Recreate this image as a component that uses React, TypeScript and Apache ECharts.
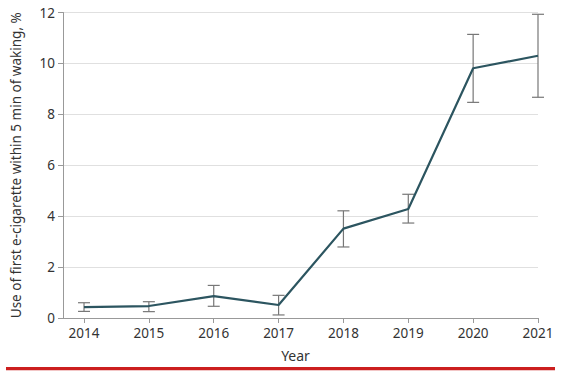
import React, { useEffect, useRef } from "react";
import * as echarts from "echarts";

const years = [2014, 2015, 2016, 2017, 2018, 2019, 2020, 2021];
const values = [0.43, 0.47, 0.86, 0.51, 3.51, 4.28, 9.81, 10.30];
const lower = [0.26, 0.25, 0.46, 0.12, 2.79, 3.73, 8.47, 8.67];
const upper = [0.60, 0.64, 1.28, 0.89, 4.21, 4.86, 11.14, 11.93];
const yTicks = [0, 2, 4, 6, 8, 10, 12];

const FONT = "Noto Sans";

export default function App() {
  const ref = useRef<HTMLDivElement>(null);
  useEffect(() => {
    if (!ref.current) return;
    const chart = echarts.init(ref.current, null, { renderer: "svg" });
    const lineData = years.map((y, i) => [y, values[i]]);
    const errData = years.map((y, i) => [y, lower[i], upper[i]]);
    chart.setOption({
      animation: false,
      grid: { left: 63, right: 28, top: 12.5, bottom: 56, containLabel: false },
      xAxis: {
        type: "value",
        min: 2013.676,
        max: 2021,
        name: "Year",
        nameLocation: "middle",
        nameGap: 30,
        nameTextStyle: { fontFamily: FONT, fontSize: 14, color: "#333", padding: [0, 10, 0, 0] },
        axisLine: { show: true, lineStyle: { color: "#999", width: 1 } },
        axisTick: { show: true, customValues: years, length: 5, lineStyle: { color: "#999" } },
        axisLabel: {
          customValues: years,
          margin: 8,
          fontFamily: FONT,
          fontSize: 13.5,
          color: "#333",
          formatter: (v: number) => String(Math.round(v)),
        },
        splitLine: { show: false },
      },
      yAxis: {
        type: "value",
        min: 0,
        max: 12,
        interval: 2,
        name: "Use of first e-cigarette within 5 min of waking, %",
        nameLocation: "middle",
        nameGap: 40,
        nameTextStyle: { fontFamily: FONT, fontSize: 13.5, color: "#333" },
        axisLine: { show: true, lineStyle: { color: "#999", width: 1 } },
        axisTick: { show: true, length: 5, lineStyle: { color: "#999" } },
        axisLabel: {
          margin: 8,
          fontFamily: FONT,
          fontSize: 13.5,
          color: "#333",
          formatter: (v: number) => (yTicks.includes(v) ? String(v) : ""),
        },
        splitLine: { show: true, lineStyle: { color: "#e0e0e0", width: 1 } },
      },
      series: [
        {
          type: "custom",
          data: errData,
          z: 2,
          renderItem: (params: any, api: any) => {
            const x = api.value(0);
            const lo = api.coord([x, api.value(1)]);
            const hi = api.coord([x, api.value(2)]);
            const hw = 6;
            const style = { stroke: "#777", lineWidth: 1.2 };
            return {
              type: "group",
              children: [
                { type: "line", shape: { x1: lo[0], y1: lo[1], x2: hi[0], y2: hi[1] }, style },
                { type: "line", shape: { x1: lo[0] - hw, y1: lo[1], x2: lo[0] + hw, y2: lo[1] }, style },
                { type: "line", shape: { x1: hi[0] - hw, y1: hi[1], x2: hi[0] + hw, y2: hi[1] }, style },
              ],
            };
          },
        },
        {
          type: "line",
          data: lineData,
          z: 3,
          symbol: "none",
          lineStyle: { color: "#2c5560", width: 2.2 },
        },
      ],
      graphic: [
        {
          type: "rect",
          shape: { x: 6, y: 367, width: 549, height: 3.2 },
          style: { fill: "#cc1f1f" },
        },
      ],
    });
    return () => chart.dispose();
  }, []);
  return <div ref={ref} style={{ width: 566, height: 374, position: "absolute", left: 0, top: 0 }} />;
}
